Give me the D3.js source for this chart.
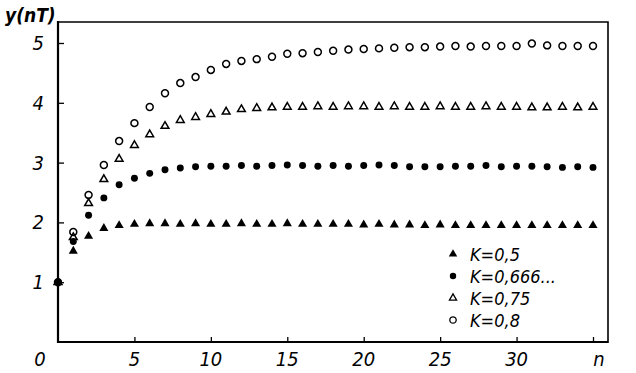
<!DOCTYPE html>
<html>
<head>
<meta charset="utf-8">
<script src="https://cdn.jsdelivr.net/npm/d3@7"></script>
<style>
  body { margin: 0; background: #fff; }
  text { font-family: "DejaVu Sans Condensed", "DejaVu Sans", sans-serif; font-style: italic; fill: #000; }
</style>
</head>
<body>
<div id="chart"></div>
<script>
var nVals = d3.range(0, 36);
var k05   = [1, 1.52, 1.77, 1.90, 1.95, 1.97, 1.98, 1.98, 1.97, 1.98, 1.97, 1.97, 1.98, 1.97, 1.97, 1.98, 1.97, 1.97, 1.97, 1.97, 1.96, 1.97, 1.96, 1.96, 1.95, 1.96, 1.95, 1.95, 1.95, 1.95, 1.95, 1.95, 1.95, 1.95, 1.95, 1.95];
var k0666 = [1, 1.68, 2.12, 2.41, 2.63, 2.74, 2.82, 2.88, 2.91, 2.93, 2.94, 2.94, 2.95, 2.94, 2.95, 2.96, 2.95, 2.94, 2.95, 2.94, 2.95, 2.96, 2.95, 2.93, 2.93, 2.93, 2.94, 2.94, 2.95, 2.93, 2.94, 2.94, 2.93, 2.92, 2.93, 2.92];
var k075  = [1, 1.75, 2.32, 2.72, 3.06, 3.29, 3.47, 3.61, 3.71, 3.76, 3.81, 3.85, 3.89, 3.91, 3.92, 3.93, 3.93, 3.94, 3.93, 3.94, 3.94, 3.93, 3.94, 3.93, 3.93, 3.94, 3.93, 3.93, 3.94, 3.93, 3.93, 3.92, 3.92, 3.93, 3.92, 3.93];
var k08   = [1, 1.84, 2.46, 2.96, 3.36, 3.66, 3.93, 4.16, 4.33, 4.43, 4.55, 4.65, 4.70, 4.73, 4.77, 4.82, 4.83, 4.85, 4.87, 4.89, 4.90, 4.91, 4.92, 4.93, 4.93, 4.94, 4.95, 4.94, 4.95, 4.95, 4.95, 4.99, 4.96, 4.95, 4.95, 4.95];
var xTicks = [5, 10, 15, 20, 25, 30];
var yTicks = [1, 2, 3, 4, 5];
var legendLabels = ["K=0,5", "K=0,666...", "K=0,75", "K=0,8"];

var W = 636, H = 373;
var x = d3.scaleLinear().domain([0, 35]).range([58, 593]);
var y = d3.scaleLinear().domain([0, 5]).range([342, 43]);

var svg = d3.select("#chart")
    .append("svg")
    .attr("width", W)
    .attr("height", H);

// frame: top and right lines
svg.append("path")
    .attr("d", "M57,22 H608 V343")
    .attr("fill", "none")
    .attr("stroke", "#000")
    .attr("stroke-width", 1.6);

// axes with inward ticks
var xAxis = svg.append("g")
    .attr("transform", "translate(0,342)")
    .call(d3.axisTop(x).tickValues(xTicks.concat([35])).tickSize(5).tickFormat(""));
var yAxis = svg.append("g")
    .attr("transform", "translate(58,0)")
    .call(d3.axisRight(y).tickValues(yTicks).tickSize(6).tickFormat(""));
[xAxis, yAxis].forEach(function(a) {
    a.select(".domain").attr("stroke", "#000").attr("stroke-width", 2.2);
    a.selectAll(".tick line").attr("stroke", "#000").attr("stroke-width", 1.3);
});
xAxis.select(".domain").attr("d", "M57,0 H608");
yAxis.select(".domain").attr("d", "M0,21 V343");

svg.selectAll("text.xl")
    .data(xTicks)
    .enter()
    .append("text")
    .attr("class", "xl")
    .attr("x", function(d) { return x(d); })
    .attr("y", 366)
    .attr("text-anchor", "middle")
    .attr("font-size", 20)
    .text(function(d) { return d; });

svg.selectAll("text.yl")
    .data(yTicks)
    .enter()
    .append("text")
    .attr("class", "yl")
    .attr("x", 44)
    .attr("y", function(d) { return y(d) + 7; })
    .attr("text-anchor", "end")
    .attr("font-size", 20)
    .text(function(d) { return d; });

svg.append("text").attr("x", 40).attr("y", 366).attr("text-anchor", "middle").attr("font-size", 20).text("0");
svg.append("text").attr("x", 599).attr("y", 366).attr("text-anchor", "middle").attr("font-size", 20).text("n");
svg.append("text").attr("x", 5).attr("y", 22).attr("font-size", 19).attr("font-weight", "bold").text("y(nT)");

// series
var series = [
    { vals: k05,   shape: d3.symbolTriangle, size: 36, fill: "#000", stroke: "none" },
    { vals: k0666, shape: d3.symbolCircle,   size: 38, fill: "#000", stroke: "none" },
    { vals: k075,  shape: d3.symbolTriangle, size: 26, fill: "none", stroke: "#000" },
    { vals: k08,   shape: d3.symbolCircle,   size: 38, fill: "none", stroke: "#000" }
];

series.forEach(function(s) {
    svg.append("g")
        .selectAll("path")
        .data(nVals)
        .enter()
        .append("path")
        .attr("d", d3.symbol().type(s.shape).size(s.size))
        .attr("transform", function(d, i) { return "translate(" + x(d) + "," + y(s.vals[i]) + ")"; })
        .attr("fill", s.fill)
        .attr("stroke", s.stroke)
        .attr("stroke-width", 1.5);
});

// legend
var leg = svg.append("g").attr("transform", "translate(453,254)");
legendLabels.forEach(function(lab, i) {
    var s = series[i];
    var ly = i * 22;
    leg.append("path")
        .attr("d", d3.symbol().type(s.shape).size(s.size * 0.85))
        .attr("transform", "translate(0," + ly + ")")
        .attr("fill", s.fill)
        .attr("stroke", s.stroke)
        .attr("stroke-width", 1.3);
    leg.append("text")
        .attr("x", 17)
        .attr("y", ly + 7)
        .attr("font-size", 18)
        .text(lab);
});
</script>
</body>
</html>
